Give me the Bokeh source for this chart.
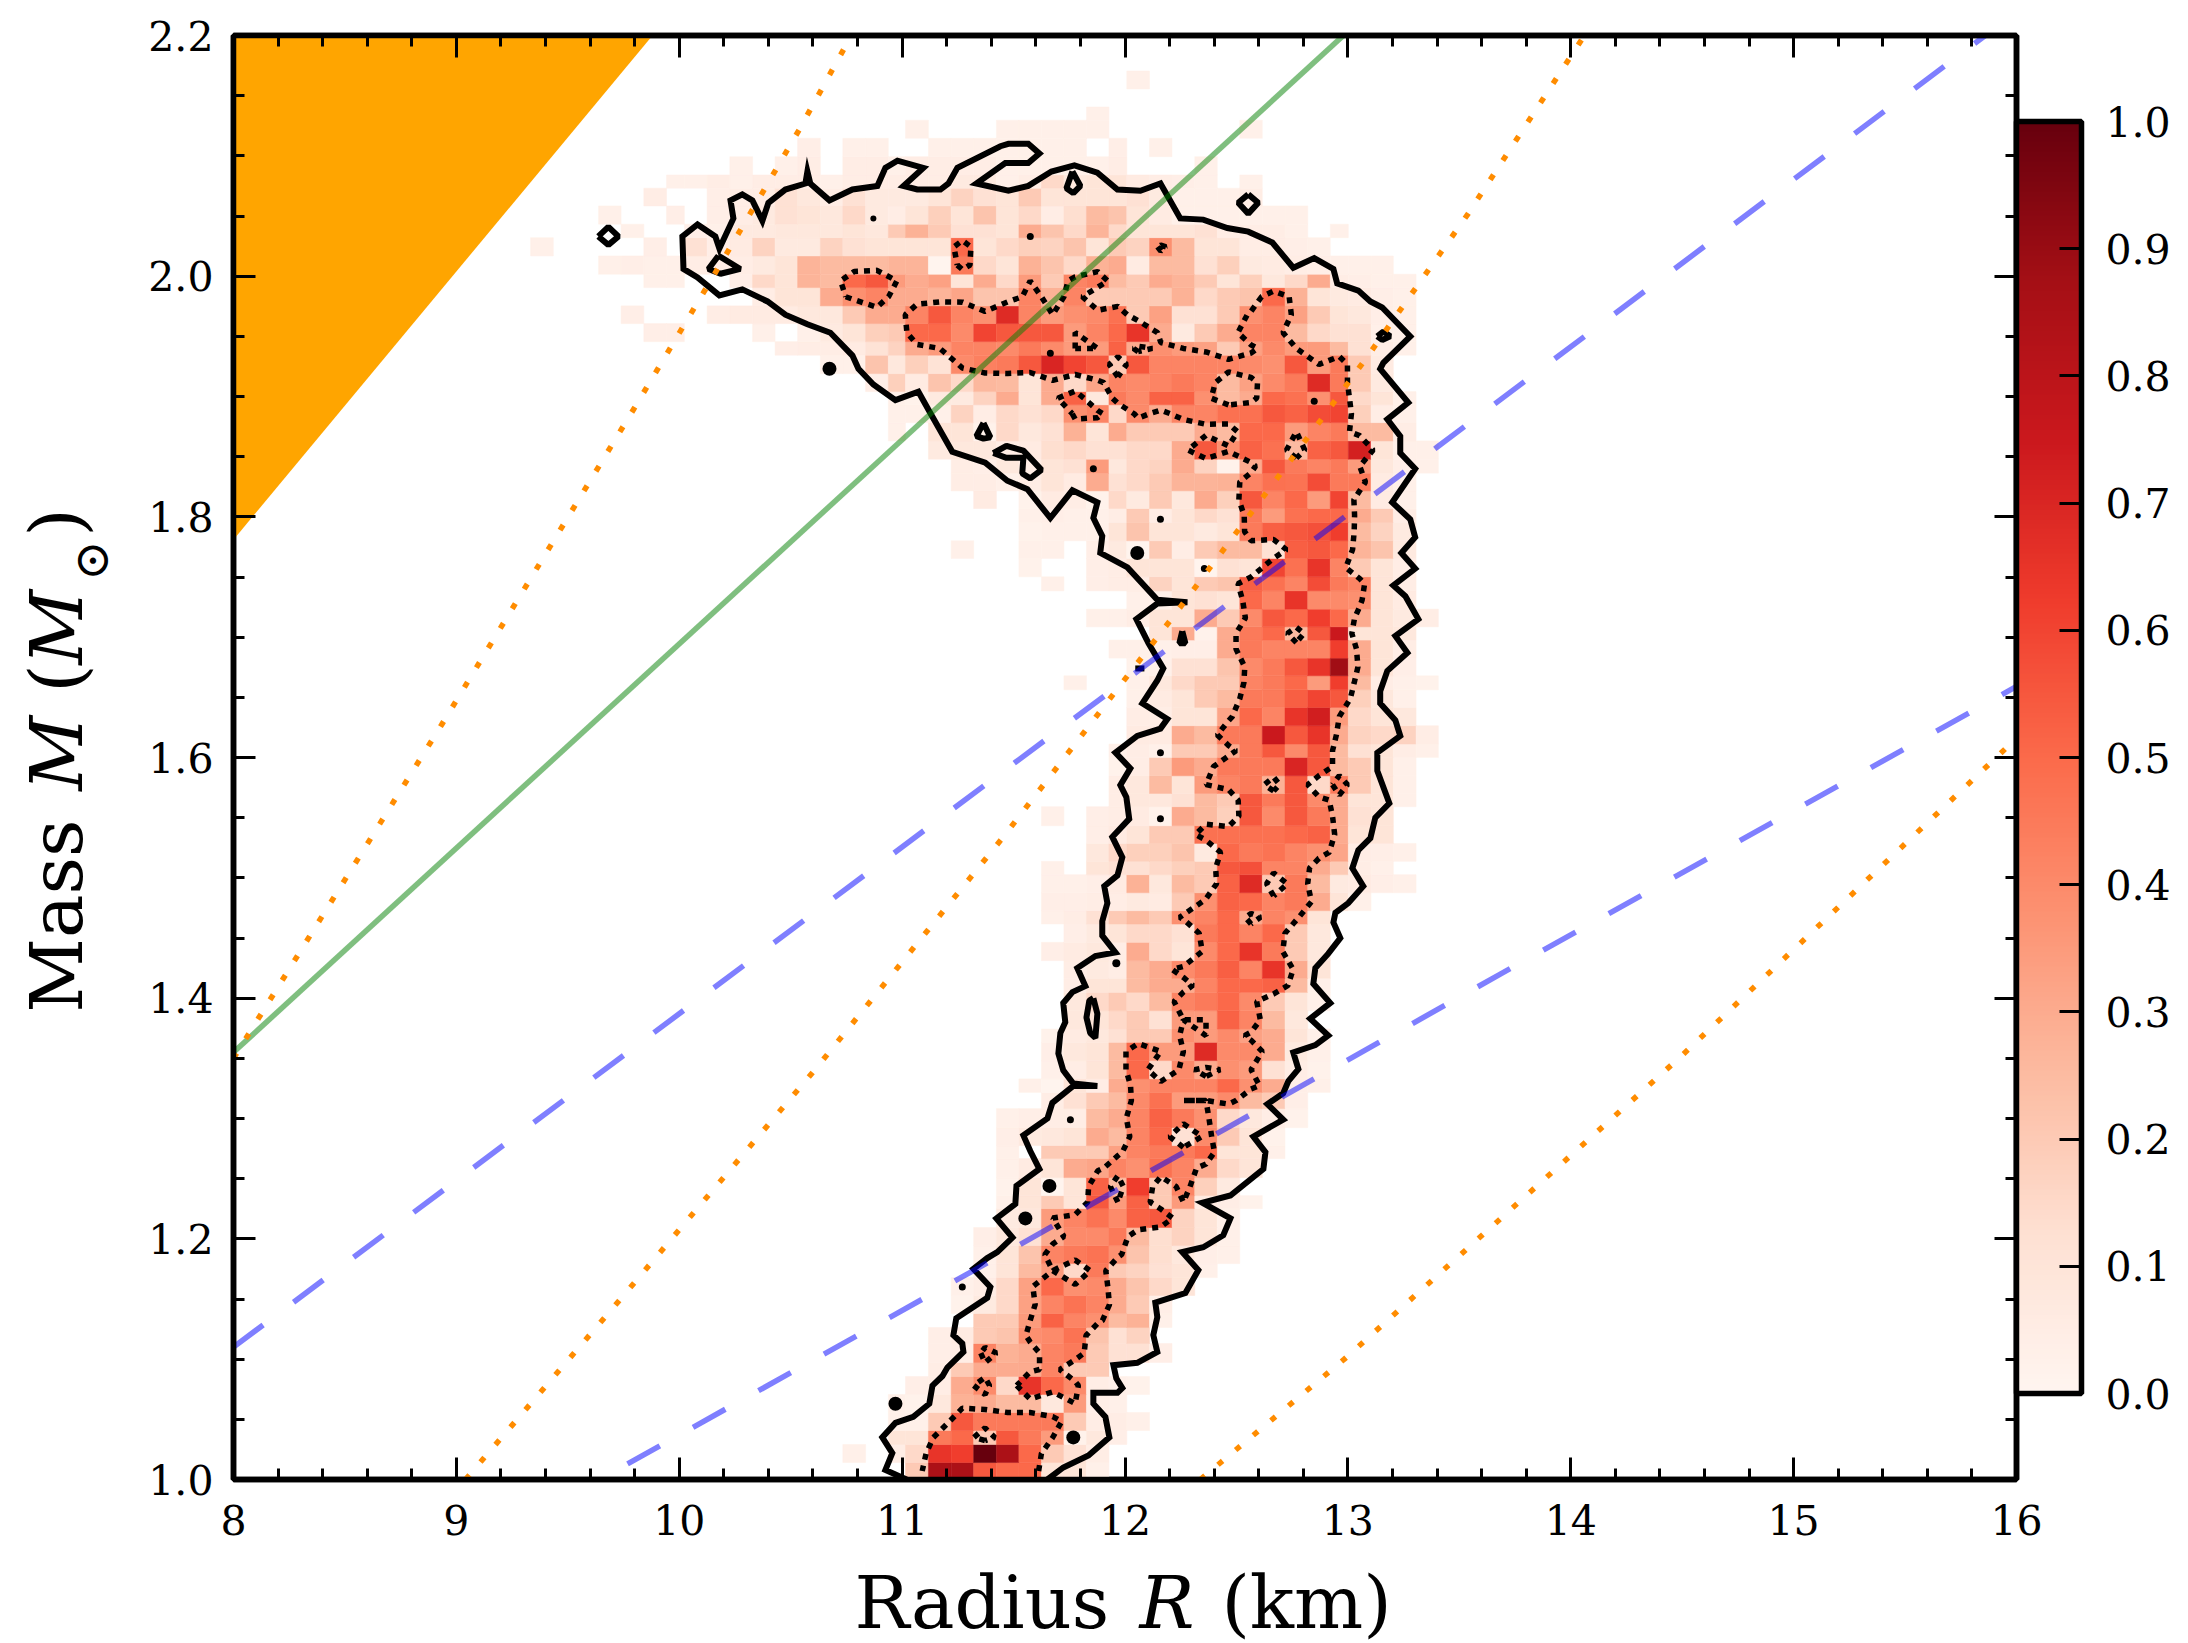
from bokeh.plotting import figure
from bokeh.models import (ColumnDataSource, LinearColorMapper, ColorBar, FixedTicker, LinearAxis,
                          Range1d, NumeralTickFormatter)
from bokeh.core.properties import value
from bokeh.palettes import Reds256
from bokeh.transform import transform
from bokeh.embed import file_html
from bokeh.resources import INLINE
from contourpy import contour_generator
import numpy as np

# ---- axes -------------------------------------------------------------
x_ticks = [8, 9, 10, 11, 12, 13, 14, 15, 16]
y_ticks = [1.0, 1.2, 1.4, 1.6, 1.8, 2.0, 2.2]
x_minor = [8 + 0.2 * i for i in range(41)]
y_minor = [1 + 0.05 * i for i in range(25)]
cbar_ticks = [0.0, 0.1, 0.2, 0.3, 0.4, 0.5, 0.6, 0.7, 0.8, 0.9, 1.0]

# ---- histogram bin edges ----------------------------------------------
r_edges = [9.333, 9.435, 9.536, 9.638, 9.739, 9.841, 9.943, 10.023, 10.125, 10.227, 10.329, 10.430, 10.531, 10.633,
           10.734, 10.836, 10.938, 11.015, 11.118, 11.220, 11.321, 11.423, 11.524, 11.625, 11.726, 11.827, 11.928,
           12.008, 12.110, 12.211, 12.313, 12.414, 12.515, 12.616, 12.718, 12.820, 12.921, 13.002, 13.104, 13.204,
           13.306, 13.406]
m_edges = [1.0, 1.0141, 1.0291, 1.0407, 1.0557, 1.0706, 1.0856, 1.0972, 1.1130, 1.1263, 1.1379, 1.1529, 1.1678,
           1.1794, 1.1944, 1.2094, 1.2251, 1.2359, 1.2509, 1.2667, 1.2775, 1.2924, 1.3082, 1.3217, 1.3329, 1.3481,
           1.3633, 1.3744, 1.3896, 1.4048, 1.4165, 1.4312, 1.4464, 1.4616, 1.4727, 1.4876, 1.5026, 1.5137, 1.5286,
           1.5433, 1.5591, 1.5701, 1.5848, 1.6001, 1.6112, 1.6264, 1.6416, 1.6563, 1.6679, 1.6826, 1.6976, 1.7086,
           1.7233, 1.7385, 1.7502, 1.7654, 1.7801, 1.7953, 1.8069, 1.8216, 1.8363, 1.8479, 1.8631, 1.8783, 1.8931,
           1.9041, 1.9190, 1.9343, 1.9456, 1.9606, 1.9753, 1.9905, 2.0016, 2.0168, 2.0320, 2.0432, 2.0584, 2.0731,
           2.0841, 2.0993, 2.1146, 2.1296, 2.1406, 2.1556, 2.1705]

# ---- histogram rows: (first column, values in percent) ------------------
row_00 = (17, [20, 85, 85, 55, 50, 50, 10, 10, 3])
row_01 = (14, [3, 0, 5, 15, 65, 62, 100, 85, 50, 20, 12, 5])
row_02 = (16, [10, 10, 45, 50, 20, 55, 45, 35, 2, 8, 4])
row_03 = (16, [3, 3, 20, 55, 45, 45, 45, 45, 20, 5, 5, 3])
row_04 = (16, [3, 2, 8, 28, 30, 25, 25, 8, 35, 4, 3])
row_05 = (17, [4, 5, 30, 40, 15, 65, 50, 40, 5, 3, 2])
row_06 = (18, [5, 20, 30, 30, 30, 42, 20, 20])
row_07 = (18, [4, 5, 42, 28, 30, 42, 45, 20, 12, 12, 4])
row_08 = (18, [4, 6, 20, 22, 38, 40, 47, 22, 12, 17])
row_09 = (20, [20, 20, 35, 52, 42, 38, 25, 28, 3])
row_10 = (19, [2, 7, 15, 33, 42, 47, 42, 30, 20, 4])
row_11 = (19, [3, 5, 15, 33, 50, 38, 40, 30, 22, 15, 10])
row_12 = (20, [3, 10, 25, 35, 15, 45, 20, 17, 12, 10, 3])
row_13 = (20, [3, 10, 22, 42, 45, 47, 38, 22, 13, 8, 4, 3])
row_14 = (20, [4, 8, 12, 30, 40, 40, 45, 25, 13, 17, 10, 3])
row_15 = (21, [7, 8, 35, 42, 47, 40, 52, 55, 17, 10, 3])
row_16 = (21, [3, 10, 20, 10, 55, 35, 52, 20, 35, 6, 5, 2])
row_17 = (21, [2, 10, 1, 10, 52, 25, 62, 20, 42, 18, 7])
row_18 = (21, [3, 6, 10, 30, 32, 42, 38, 48, 42, 30, 15, 10])
row_19 = (21, [3, 0, 20, 20, 20, 33, 42, 45, 45, 50, 10, 10, 3])
row_20 = (21, [4, 7, 8, 10, 30, 25, 42, 50, 12, 40, 20, 10, 2])
row_21 = (21, [3, 4, 5, 5, 25, 30, 42, 52, 45, 38, 15, 8, 5, 2])
row_22 = (23, [5, 12, 20, 25, 40, 48, 35, 35, 40, 25, 20, 4])
row_23 = (22, [3, 1, 10, 5, 30, 38, 42, 42, 42, 50, 38, 30, 4, 3])
row_24 = (23, [3, 5, 10, 25, 50, 15, 40, 30, 38, 35, 12, 5, 2])
row_25 = (23, [4, 8, 10, 25, 50, 35, 35, 68, 40, 40, 30, 7, 3])
row_26 = (23, [2, 6, 8, 12, 20, 20, 38, 35, 40, 33, 30, 10, 3])
row_27 = (24, [8, 10, 15, 20, 12, 35, 35, 52, 42, 25, 8])
row_28 = (24, [8, 15, 20, 15, 25, 42, 45, 50, 40, 20, 10, 3])
row_29 = (24, [5, 10, 10, 25, 30, 30, 42, 50, 50, 52, 25, 3])
row_30 = (24, [5, 7, 5, 25, 30, 40, 45, 53, 42, 65, 30, 10])
row_31 = (23, [4, 6, 8, 5, 30, 15, 10, 40, 50, 65, 45, 20, 8])
row_32 = (24, [4, 7, 10, 15, 15, 12, 45, 50, 42, 50, 20, 8])
row_33 = (23, [3, 5, 12, 20, 25, 20, 38, 42, 50, 30, 42, 38, 10])
row_34 = (23, [4, 4, 5, 5, 7, 6, 20, 38, 52, 50, 42, 45, 30, 10, 3])
row_35 = (23, [3, 3, 4, 6, 28, 8, 25, 20, 52, 68, 20, 45, 25, 7, 6, 4, 3])
row_36 = (23, [3, 0, 10, 12, 12, 15, 18, 20, 55, 57, 42, 42, 30, 20, 5, 3])
row_37 = (25, [8, 15, 18, 18, 22, 7, 50, 45, 47, 42, 38, 32, 5, 4, 3])
row_38 = (25, [4, 6, 10, 20, 20, 48, 48, 48, 48, 50, 52, 30, 10, 10])
row_39 = (23, [3, 0, 4, 5, 6, 2, 30, 25, 18, 55, 40, 55, 45, 30, 12, 10])
row_40 = (26, [5, 8, 8, 12, 25, 20, 55, 45, 55, 40, 30, 10, 10, 3])
row_41 = (26, [5, 8, 25, 10, 35, 42, 45, 28, 55, 15, 45, 20, 10, 3])
row_42 = (26, [2, 5, 20, 35, 30, 45, 45, 45, 70, 55, 25, 20, 10, 3])
row_43 = (26, [3, 5, 3, 20, 20, 30, 45, 55, 40, 55, 25, 12, 10, 5, 3])
row_44 = (27, [6, 6, 30, 25, 45, 45, 75, 55, 65, 30, 17, 15, 17, 5])
row_45 = (27, [5, 5, 10, 10, 32, 50, 42, 65, 73, 35, 15, 10, 8])
row_46 = (27, [3, 6, 10, 20, 25, 45, 45, 53, 60, 55, 18, 8, 3])
row_47 = (24, [3, 0, 0, 3, 8, 15, 20, 20, 42, 45, 50, 35, 62, 25, 5, 3, 2])
row_48 = (27, [2, 3, 12, 12, 22, 40, 45, 55, 65, 88, 30, 10, 4])
row_49 = (26, [3, 3, 3, 4, 4, 30, 45, 42, 42, 42, 62, 30, 10, 5])
row_50 = (28, [10, 30, 2, 30, 45, 50, 25, 55, 75, 10, 10, 8])
row_51 = (25, [3, 3, 5, 10, 10, 30, 20, 40, 55, 50, 62, 50, 30, 10, 7, 5])
row_52 = (27, [3, 3, 10, 12, 10, 50, 42, 65, 40, 40, 38, 10, 6])
row_53 = (23, [3, 0, 4, 5, 5, 17, 10, 20, 22, 53, 48, 42, 58, 45, 42, 10, 5])
row_54 = (22, [2, 0, 0, 4, 5, 10, 10, 10, 1, 12, 10, 60, 48, 65, 42, 20, 10, 5])
row_55 = (19, [3, 0, 0, 3, 3, 0, 4, 7, 1, 20, 5, 20, 25, 25, 12, 53, 55, 50, 27, 22, 7])
row_56 = (22, [2, 3, 3, 3, 10, 22, 10, 10, 7, 10, 45, 53, 55, 57, 62, 25, 17, 7])
row_57 = (22, [3, 4, 3, 3, 5, 20, 5, 10, 15, 12, 45, 35, 48, 50, 50, 30, 20, 5])
row_58 = (20, [6, 0, 2, 6, 5, 2, 15, 7, 20, 8, 30, 18, 55, 42, 50, 35, 60, 25, 6, 3])
row_59 = (19, [5, 5, 3, 5, 10, 6, 30, 12, 15, 20, 27, 27, 28, 42, 48, 47, 58, 45, 45, 6, 3])
row_60 = (19, [5, 4, 8, 5, 10, 12, 35, 8, 15, 17, 30, 17, 2, 30, 55, 45, 42, 45, 35, 8, 4, 3])
row_61 = (18, [7, 8, 8, 5, 6, 13, 15, 12, 12, 15, 15, 30, 55, 38, 52, 48, 25, 52, 55, 72, 10, 3, 3])
row_62 = (16, [3, 0, 10, 10, 2, 15, 8, 12, 28, 10, 30, 20, 20, 20, 30, 25, 50, 50, 35, 42, 45, 25, 25, 5])
row_63 = (16, [3, 3, 3, 17, 5, 15, 12, 15, 38, 42, 15, 40, 30, 42, 42, 48, 48, 55, 52, 58, 60, 18, 5, 3])
row_64 = (16, [3, 2, 7, 7, 17, 30, 10, 30, 52, 8, 45, 40, 52, 52, 38, 25, 30, 50, 48, 38, 55, 15, 10, 3])
row_65 = (15, [4, 18, 6, 22, 15, 26, 25, 10, 30, 15, 32, 42, 40, 42, 45, 42, 25, 33, 40, 45, 68, 45, 20, 7])
row_66 = (13, [3, 3, 22, 8, 18, 11, 40, 43, 45, 55, 70, 60, 55, 20, 55, 42, 42, 42, 42, 40, 38, 55, 35, 45, 20, 6])
row_67 = (11, [4, 5, 5, 6, 11, 17, 30, 35, 42, 42, 40, 45, 40, 35, 35, 52, 30, 38, 35, 33, 20, 33, 40, 35, 35, 25, 12, 5, 3])
row_68 = (5, [4, 4, 0, 0, 0, 3, 0, 3, 7, 10, 18, 20, 50, 50, 40, 60, 55, 55, 55, 35, 42, 50, 65, 30, 7, 20, 30, 42, 42, 25, 15, 12, 12, 3, 3])
row_69 = (4, [4, 0, 0, 0, 5, 6, 6, 6, 8, 8, 20, 30, 30, 42, 55, 42, 38, 68, 42, 35, 38, 40, 48, 20, 33, 12, 12, 20, 38, 42, 33, 20, 10, 8, 4, 3])
row_70 = (10, [5, 10, 10, 30, 38, 42, 30, 30, 27, 32, 22, 22, 42, 28, 42, 20, 20, 20, 20, 28, 15, 20, 22, 50, 28, 10, 7, 6, 4, 3])
row_71 = (5, [3, 3, 0, 0, 4, 15, 10, 27, 25, 50, 55, 35, 30, 33, 10, 30, 15, 35, 20, 42, 45, 25, 20, 30, 27, 20, 10, 18, 8, 15, 30, 5, 4, 3, 3])
row_72 = (3, [3, 4, 3, 3, 5, 4, 5, 7, 10, 27, 25, 25, 25, 27, 27, 1, 45, 15, 10, 28, 22, 15, 28, 30, 6, 25, 25, 12, 18, 7, 6, 5, 4, 3, 3, 3])
row_73 = (0, [3, 0, 0, 0, 0, 4, 0, 12, 4, 6, 17, 7, 7, 17, 12, 10, 10, 10, 10, 50, 10, 15, 18, 17, 22, 10, 20, 17, 38, 25, 10, 10, 5, 5, 4, 3])
row_74 = (4, [3, 0, 0, 4, 3, 7, 7, 8, 8, 8, 10, 8, 20, 28, 20, 12, 12, 10, 30, 22, 15, 27, 15, 10, 10, 10, 12, 5, 5, 5, 3, 0, 3])
row_75 = (3, [3, 0, 0, 4, 0, 4, 5, 7, 12, 10, 8, 15, 7, 5, 10, 18, 10, 22, 10, 15, 5, 13, 25, 22, 10, 6, 3, 3, 3, 3, 3, 3])
row_76 = (5, [5, 0, 0, 4, 5, 5, 12, 8, 5, 12, 7, 7, 7, 10, 17, 12, 10, 20, 10, 10, 10, 10, 12, 7, 3, 3, 3, 5])
row_77 = (6, [3, 3, 5, 3, 5, 5, 5, 3, 5, 5, 5, 5, 5, 7, 7, 3, 5, 15, 8, 10, 10, 6, 5, 4, 3, 0, 3])
row_78 = (9, [3, 0, 3, 5, 0, 5, 5, 3, 5, 5, 5, 5, 3, 3, 3, 3, 3, 5, 0, 0, 0, 3])
row_79 = (12, [4, 0, 3, 3, 0, 0, 3, 3, 3, 3, 3, 3, 3, 0, 4, 0, 3])
row_80 = (17, [3, 0, 0, 0, 3, 3, 3, 3, 3, 0, 0, 0, 0, 0, 0, 3])
row_81 = (25, [3])
row_82 = (25, [0])
row_83 = (27, [3])
hist_rows = [row_00, row_01, row_02, row_03, row_04, row_05, row_06, row_07, row_08, row_09, row_10, row_11, row_12,
             row_13, row_14, row_15, row_16, row_17, row_18, row_19, row_20, row_21, row_22, row_23, row_24, row_25,
             row_26, row_27, row_28, row_29, row_30, row_31, row_32, row_33, row_34, row_35, row_36, row_37, row_38,
             row_39, row_40, row_41, row_42, row_43, row_44, row_45, row_46, row_47, row_48, row_49, row_50, row_51,
             row_52, row_53, row_54, row_55, row_56, row_57, row_58, row_59, row_60, row_61, row_62, row_63, row_64,
             row_65, row_66, row_67, row_68, row_69, row_70, row_71, row_72, row_73, row_74, row_75, row_76, row_77,
             row_78, row_79, row_80, row_81, row_82, row_83]

# ---- outer contour ------------------------------------------------------
outer_r = [11.02, 10.925, 10.956, 10.911, 10.970, 11.050, 11.122, 11.136, 11.181, 11.203, 11.275, 11.270, 11.230, 11.243,
           11.382, 11.396, 11.320, 11.382, 11.427, 11.495, 11.423, 11.508, 11.513, 11.616, 11.575, 11.544, 11.652, 11.674,
           11.768, 11.876, 11.768, 11.723, 11.701, 11.710, 11.732, 11.723, 11.764, 11.822, 11.786, 11.867, 11.957, 11.898,
           11.898, 11.921, 11.907, 11.966, 11.988, 11.943, 12.019, 12.006, 11.979, 12.024, 11.957, 12.055, 12.159, 12.190,
           12.078, 12.145, 12.172, 12.105, 12.051, 12.145, 12.280, 12.145, 12.011, 11.889, 11.898, 11.858, 11.876, 11.764,
           11.665, 11.562, 11.472, 11.373, 11.225, 11.127, 11.073, 10.970, 10.871, 10.804, 10.777, 10.678, 10.575, 10.476,
           10.396, 10.283, 10.180, 10.082, 10.019, 10.014, 10.082, 10.162, 10.180, 10.243, 10.230, 10.283, 10.328, 10.373,
           10.400, 10.476, 10.566, 10.575, 10.588, 10.674, 10.777, 10.889, 10.925, 10.979, 11.095, 11.006, 11.068, 11.172,
           11.208, 11.248, 11.441, 11.477, 11.566, 11.616, 11.566, 11.463, 11.333, 11.477, 11.566, 11.670, 11.773, 11.876,
           11.966, 12.069, 12.159, 12.248, 12.351, 12.459, 12.553, 12.661, 12.755, 12.849, 12.935, 12.952, 13.047, 13.101,
           13.154, 13.280, 13.159, 13.145, 13.271, 13.177, 13.235, 13.235, 13.302, 13.199, 13.280, 13.302, 13.240, 13.302,
           13.204, 13.258, 13.316, 13.213, 13.267, 13.177, 13.145, 13.145, 13.213, 13.235, 13.132, 13.132, 13.186, 13.123,
           13.101, 13.047, 13.020, 13.069, 13.002, 12.944, 12.935, 12.966, 12.912, 12.854, 12.845, 12.921, 12.831, 12.912,
           12.854, 12.755, 12.778, 12.733, 12.710, 12.639, 12.710, 12.576, 12.630, 12.621, 12.473, 12.347, 12.473, 12.441,
           12.351, 12.257, 12.329, 12.271, 12.136, 12.145, 12.127, 12.145, 12.055, 11.948, 11.961, 11.988, 11.966, 11.858,
           11.858, 11.912, 11.930, 11.836, 11.723, 11.652]
outer_m = [1.000, 1.008, 1.022, 1.035, 1.047, 1.052, 1.063, 1.078, 1.086, 1.093, 1.106, 1.113, 1.120, 1.134,
           1.151, 1.160, 1.175, 1.184, 1.189, 1.201, 1.217, 1.229, 1.244, 1.258, 1.273, 1.286, 1.300, 1.313,
           1.327, 1.327, 1.329, 1.340, 1.354, 1.371, 1.380, 1.396, 1.405, 1.410, 1.425, 1.435, 1.438, 1.452,
           1.464, 1.479, 1.493, 1.502, 1.517, 1.534, 1.549, 1.567, 1.577, 1.591, 1.604, 1.618, 1.624, 1.632,
           1.645, 1.664, 1.674, 1.695, 1.715, 1.728, 1.729, 1.731, 1.758, 1.770, 1.784, 1.799, 1.812, 1.822,
           1.799, 1.823, 1.830, 1.845, 1.854, 1.886, 1.904, 1.897, 1.910, 1.923, 1.934, 1.953, 1.960, 1.968,
           1.979, 1.989, 1.984, 1.999, 2.006, 2.033, 2.043, 2.033, 2.023, 2.048, 2.063, 2.068, 2.063, 2.046,
           2.061, 2.072, 2.077, 2.087, 2.077, 2.063, 2.072, 2.075, 2.090, 2.096, 2.090, 2.075, 2.072, 2.072,
           2.077, 2.090, 2.108, 2.110, 2.110, 2.102, 2.094, 2.094, 2.077, 2.071, 2.075, 2.087, 2.092, 2.086,
           2.072, 2.071, 2.077, 2.048, 2.047, 2.040, 2.037, 2.028, 2.007, 2.015, 2.006, 1.994, 1.988, 1.979,
           1.974, 1.950, 1.928, 1.923, 1.895, 1.881, 1.867, 1.853, 1.840, 1.812, 1.798, 1.783, 1.770, 1.757,
           1.743, 1.734, 1.715, 1.701, 1.687, 1.672, 1.655, 1.645, 1.631, 1.618, 1.604, 1.589, 1.562, 1.550,
           1.533, 1.523, 1.508, 1.493, 1.479, 1.471, 1.463, 1.450, 1.437, 1.425, 1.412, 1.396, 1.383, 1.369,
           1.361, 1.355, 1.341, 1.331, 1.321, 1.312, 1.299, 1.285, 1.272, 1.258, 1.236, 1.230, 1.217, 1.203,
           1.193, 1.189, 1.174, 1.155, 1.147, 1.135, 1.120, 1.106, 1.097, 1.095, 1.084, 1.076, 1.072, 1.072,
           1.063, 1.052, 1.035, 1.020, 1.010, 1.000]

# small closed solid contours
islands_r = [[9.637, 9.682, 9.727, 9.682, 9.637],
             [10.176, 10.274, 10.185, 10.131, 10.176],
             [11.764, 11.737, 11.768, 11.800, 11.764],
             [12.553, 12.598, 12.553, 12.508, 12.553],
             [11.365, 11.396, 11.365, 11.333, 11.365],
             [11.409, 11.468, 11.544, 11.625, 11.575, 11.539, 11.544, 11.468, 11.409],
             [13.132, 13.159, 13.190, 13.154, 13.132],
             [12.257, 12.271, 12.244, 12.257],
             [11.858, 11.876, 11.867, 11.844, 11.827, 11.840, 11.858],
             [12.046, 12.087]]
islands_m = [[2.033, 2.041, 2.033, 2.026, 2.033],
             [2.017, 2.006, 2.002, 2.006, 2.017],
             [2.087, 2.073, 2.069, 2.075, 2.087],
             [2.068, 2.061, 2.052, 2.061, 2.068],
             [1.878, 1.866, 1.865, 1.867, 1.878],
             [1.853, 1.859, 1.855, 1.839, 1.832, 1.836, 1.849, 1.849, 1.853],
             [1.950, 1.954, 1.950, 1.947, 1.950],
             [1.705, 1.695, 1.695, 1.705],
             [1.400, 1.387, 1.367, 1.371, 1.384, 1.398, 1.400],
             [1.674, 1.674]]
# tiny solid contour blobs
blob_r = [10.674, 11.961, 11.661, 11.553, 10.970, 11.768, 11.755, 11.270, 12.159, 12.159, 12.055, 12.356, 12.159, 11.858,
          11.665, 12.849, 10.871, 11.575]
blob_m = [1.923, 1.429, 1.244, 1.217, 1.063, 1.035, 1.299, 1.160, 1.604, 1.549, 1.770, 1.757, 1.798, 1.840,
          1.936, 1.896, 2.048, 2.033]
blob_d = [14, 8, 14, 14, 14, 14, 7, 7, 7, 7, 14, 7, 7, 7, 7, 7, 6, 7]

# ---- theory lines --------------------------------------------------------
wedge_r = [8.0, 9.88, 8.0]
wedge_m = [1.781, 2.2, 2.2]
green_r = [8.0, 12.98]
green_m = [1.355, 2.2]
orange1_r = [8.0, 8.933, 9.794, 10.14, 10.369, 10.539, 10.772]
orange1_m = [1.35, 1.627, 1.889, 1.996, 2.068, 2.122, 2.2]
orange2_r = [9.041, 9.732, 10.611, 11.454, 12.212, 12.885, 13.087, 13.54, 14.061]
orange2_m = [1.0, 1.149, 1.341, 1.534, 1.716, 1.882, 1.933, 2.052, 2.2]
orange3_r = [12.338, 12.984, 14.491, 16.0]
orange3_m = [1.0, 1.100, 1.351, 1.616]
blue1_r = [8.0, 11.508, 12.863, 13.401, 15.86]
blue1_m = [1.110, 1.596, 1.783, 1.858, 2.2]
blue2_r = [9.768, 11.382, 13.684, 16.0]
blue2_m = [1.013, 1.180, 1.420, 1.659]

contour_level = 0.35
SERIF = "DejaVu Serif"

# ---- figure --------------------------------------------------------------
p = figure(width=2188, height=1643, x_range=Range1d(8, 16), y_range=Range1d(1.0, 2.2),
           output_backend="svg", toolbar_location=None, tools="",
           min_border_left=233, min_border_right=172, min_border_top=35, min_border_bottom=164)
p.grid.visible = False
p.background_fill_color = "white"
p.outline_line_color = "black"
p.outline_line_width = 5.5

mapper = LinearColorMapper(palette=list(reversed(Reds256)), low=0, high=1)

left, right, bottom, top, val = [], [], [], [], []
grid = np.zeros((len(m_edges) - 1, len(r_edges) - 1))
for j, (start, values) in enumerate(hist_rows):
    for k, v in enumerate(values):
        if v > 0:
            c = start + k
            left.append(r_edges[c]); right.append(r_edges[c + 1])
            bottom.append(m_edges[j]); top.append(m_edges[j + 1])
            val.append(v / 100)
            grid[j, c] = v / 100
src = ColumnDataSource(dict(left=left, right=right, bottom=bottom, top=top, val=val))
p.quad(left="left", right="right", bottom="bottom", top="top", source=src,
       fill_color=transform("val", mapper), line_color=transform("val", mapper), line_width=0.5)

# contours
rc = 0.5 * (np.array(r_edges[:-1]) + np.array(r_edges[1:]))
mc = 0.5 * (np.array(m_edges[:-1]) + np.array(m_edges[1:]))
gen = contour_generator(x=rc, y=mc, z=grid)
xs, ys = [], []
for ln in gen.lines(contour_level):
    xs.append(ln[:, 0].tolist()); ys.append(ln[:, 1].tolist())
p.multi_line(xs, ys, line_color="black", line_width=5.5, line_dash="6 6", line_cap="butt")

p.line(outer_r, outer_m, line_color="black", line_width=6, line_join="miter")
p.multi_line(islands_r, islands_m, line_color="black", line_width=6)
p.scatter(blob_r, blob_m, size=blob_d, marker="circle", fill_color="black", line_color=None)

p.patch(wedge_r, wedge_m, fill_color="#ffa500", line_color=None)
p.line(green_r, green_m, line_color="green", line_alpha=0.5, line_width=5.5)
for rr, mm in ((orange1_r, orange1_m), (orange2_r, orange2_m), (orange3_r, orange3_m)):
    p.line(rr, mm, line_color="#ff8c00", line_width=5.5, line_dash="6 17", line_cap="butt")
for rr, mm in ((blue1_r, blue1_m), (blue2_r, blue2_m)):
    p.line(rr, mm, line_color="blue", line_alpha=0.5, line_width=5.5, line_dash="37 38", line_cap="butt")


def style(ax, ticks, minors, labels=True):
    ax.ticker = FixedTicker(ticks=ticks, minor_ticks=minors)
    ax.axis_line_color = "black"
    ax.axis_line_width = 5.5
    ax.major_tick_in = 22
    ax.major_tick_out = 0
    ax.minor_tick_in = 11
    ax.minor_tick_out = 0
    ax.major_tick_line_color = "black"
    ax.minor_tick_line_color = "black"
    ax.major_tick_line_width = 3
    ax.minor_tick_line_width = 3
    ax.major_label_text_font = SERIF
    ax.major_label_text_color = "black" if labels else None
    ax.major_label_text_font_size = "41px" if labels else "1px"


style(p.xaxis[0], x_ticks, x_minor)
style(p.yaxis[0], y_ticks, y_minor)
p.xaxis[0].major_label_standoff = 25
p.yaxis[0].major_label_standoff = 20
p.xaxis[0].formatter = NumeralTickFormatter(format="0")
p.yaxis[0].formatter = NumeralTickFormatter(format="0.0")
top_ax = LinearAxis(major_label_standoff=0)
right_ax = LinearAxis(major_label_standoff=0)
style(top_ax, x_ticks, x_minor, labels=False)
style(right_ax, y_ticks, y_minor, labels=False)
p.add_layout(top_ax, "above")
p.add_layout(right_ax, "right")

cb = ColorBar(color_mapper=mapper, ticker=FixedTicker(ticks=cbar_ticks), formatter=NumeralTickFormatter(format="0.0"),
              location=(1783, 86), width=65, height=1272, padding=0, margin=0,
              major_tick_in=22, major_tick_out=0, major_tick_line_color="black", major_tick_line_width=3,
              minor_tick_line_color=None, bar_line_color="black", bar_line_width=5.5,
              label_standoff=24, major_label_text_font=SERIF, major_label_text_font_size="41px",
              major_label_text_color="black", background_fill_color=None, border_line_color=None)
p.add_layout(cb)


def sx(px):
    return 8 + (px - 233) / 222.9


def sy(py):
    return 1 + (1479 - py) / 1203.75


def title_piece(text, px, py, style_="normal", size="73px", angle=0.0):
    p.text([sx(px)], [sy(py)], text=[text], text_font=value(SERIF), text_font_size=size, text_font_style=style_,
           text_baseline="alphabetic", text_align="left", text_color="black", angle=angle, level="overlay")


title_piece("Radius", 854, 1602)
title_piece("R", 1139, 1602, "italic")
title_piece("(km)", 1221, 1602)
up = np.pi / 2
title_piece("Mass", 56, 1012, angle=up)
title_piece("M", 56, 790, "italic", angle=up)
title_piece("(", 56, 692, angle=up)
title_piece("M", 56, 664, "italic", angle=up)
title_piece("\u2299", 90, 580, size="48px", angle=up)
title_piece(")", 56, 536, angle=up)

open("out.html", "w").write(file_html(p, INLINE))
